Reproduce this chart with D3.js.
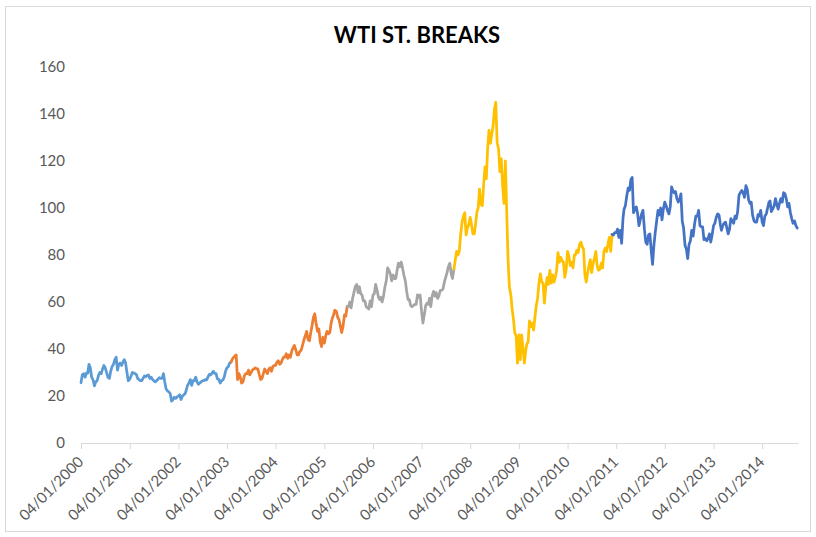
<!DOCTYPE html>
<html><head><meta charset="utf-8">
<script src="https://cdn.jsdelivr.net/npm/d3@7/dist/d3.min.js"></script>
<style>body{margin:0;background:#fff}</style>
</head><body>
<svg id="chart" width="816" height="537"></svg>
<script>
// ---- DATA (WTI spot, sampled on the 4th, 14th and 24th of each month) ----
const years = [2000,2001,2002,2003,2004,2005,2006,2007,2008,2009,2010,2011,2012,2013,2014];
const y2000 = [25.6,29.0,29.5, 28.0,29.8,29.7, 33.5,32.0,28.0, 26.8,24.3,26.0, 26.5,28.7,30.0, 29.5,31.5,33.0, 32.0,30.0,28.0, 27.5,30.5,32.5, 33.5,35.5,36.5, 31.0,33.5,34.0, 33.0,34.5,35.5, 34.0,30.0,26.5];
const y2001 = [27.2,28.5,30.0, 29.8,29.5,29.0, 27.5,27.0,26.5, 26.5,27.5,28.5, 28.2,28.7,29.0, 27.5,28.0,27.0, 26.5,26.0,26.5, 27.2,27.8,27.5, 27.5,29.5,26.0, 23.0,22.2,21.8, 21.0,17.8,18.5, 19.5,19.0,19.5];
const y2002 = [20.0,20.5,18.5, 20.0,20.5,21.0, 22.5,24.5,25.5, 27.0,24.5,26.5, 26.5,28.0,26.0, 25.0,25.5,26.0, 26.5,26.5,27.0, 26.8,28.0,29.2, 29.0,29.8,30.5, 29.6,29.5,27.3, 27.0,25.5,26.5, 26.8,28.0,30.5];
const y2003 = [32.0,32.5,34.0, 34.5,35.8,36.5, 37.0,37.5,27.0, 29.5,28.0,25.5, 26.0,28.5,29.5, 29.5,31.0,29.0, 30.0,31.0,31.5, 32.0,31.5,31.5, 29.0,27.0,27.5, 29.5,31.5,30.5, 29.5,31.5,32.0, 30.5,32.5,33.0];
const y2004 = [33.0,34.5,35.0, 33.5,34.0,35.5, 36.5,36.5,38.0, 36.0,37.5,36.5, 39.0,40.5,41.5, 39.5,37.5,37.5, 39.0,39.5,41.5, 44.0,45.5,47.5, 44.0,43.5,47.0, 50.0,53.5,55.0, 50.5,47.5,48.5, 43.0,41.0,45.0];
const y2005 = [42.5,45.5,47.5, 46.5,47.0,51.0, 53.0,54.5,56.5, 56.0,53.5,52.5, 49.8,47.0,49.5, 54.5,54.0,58.0, 58.0,60.0,57.5, 61.5,64.0,66.5, 67.5,64.0,66.5, 63.5,63.0,60.5, 60.5,58.0,57.5, 57.0,60.5,58.0];
const y2006 = [63.0,63.5,67.5, 65.0,62.0,61.0, 62.0,60.0,62.5, 66.5,69.0,74.5, 73.5,72.0,69.0, 71.5,70.0,70.0, 73.5,76.5,75.0, 77.0,74.5,71.5, 69.0,64.5,61.0, 61.0,58.5,58.0, 58.5,59.0,59.0, 63.0,62.0,63.0];
const y2007 = [56.0,51.0,54.5, 58.5,59.5,59.0, 61.5,58.0,62.5, 64.5,62.5,64.0, 61.5,62.5,65.0, 65.0,65.5,68.5, 70.5,72.5,75.0, 76.5,72.0,70.0, 74.0,78.0,81.5, 80.0,81.5,88.5, 94.0,96.5,98.0, 88.5,91.5,93.0];
const y2008 = [96.0,93.0,89.0, 89.0,93.5,98.5, 100.0,108.0,101.5, 101.0,110.0,117.5, 112.5,125.5,133.0, 127.5,131.5,135.0, 142.0,145.0,128.0, 125.0,115.5,121.0, 109.0,102.0,120.0, 98.5,78.5,66.5, 63.0,57.0,52.5, 46.8,45.5,34.0];
const y2009 = [46.0,35.5,46.0, 40.0,34.0,39.5, 42.0,43.0,52.0, 49.5,51.0,48.0, 53.5,58.5,61.5, 68.5,72.0,68.5, 68.0,59.5,66.0, 70.5,67.5,73.5, 68.0,71.5,68.5, 70.5,73.5,81.0, 77.0,79.0,77.5, 77.0,70.5,73.5];
const y2010 = [81.5,79.5,75.5, 77.0,74.5,80.0, 80.0,82.0,81.0, 84.5,85.5,83.5, 82.5,71.6,68.5, 72.5,75.5,78.0, 72.5,76.0,78.5, 81.5,75.5,73.5, 74.0,76.5,74.5, 81.5,83.0,81.5, 85.0,87.5,81.5, 88.8,88.5,89.5];
const y2011 = [89.5,91.0,87.5, 90.5,85.0,95.5, 99.5,101.0,105.0, 108.5,107.5,112.0, 113.0,98.0,99.5, 100.5,97.5,92.5, 95.0,97.5,99.0, 91.0,85.5,84.5, 88.5,89.0,82.0, 76.0,84.0,89.5, 94.5,99.0,97.0, 100.0,95.0,99.5];
const y2012 = [102.5,101.0,99.0, 97.5,100.5,109.0, 107.5,106.5,107.0, 104.0,102.5,103.5, 106.0,94.5,91.5, 84.0,82.5,78.5, 84.5,86.0,90.5, 88.0,93.0,96.5, 96.5,99.0,92.5, 92.0,92.0,86.5, 87.0,86.0,87.0, 89.0,85.5,88.5];
const y2013 = [92.5,93.5,96.0, 97.5,97.0,93.0, 90.5,92.5,93.5, 94.0,91.5,89.0, 91.0,95.5,94.5, 93.5,96.5,95.5, 98.5,105.5,106.5, 107.5,106.5,104.5, 109.5,108.0,103.5, 102.0,102.5,97.0, 94.5,94.0,94.0, 97.2,96.6,99.0];
const y2014 = [94.0,92.5,96.5, 97.5,100.0,102.5, 103.0,98.5,99.5, 101.0,104.0,101.5, 99.5,102.0,104.0, 102.5,106.5,106.0, 104.0,100.5,102.0, 98.0,95.5,93.5, 94.5,92.5,91.5];
const yearValues = [y2000,y2001,y2002,y2003,y2004,y2005,y2006,y2007,y2008,y2009,y2010,y2011,y2012,y2013,y2014];

const breakDates = ["2003-02-04","2005-06-24","2007-09-04","2010-12-04"];
const segmentColors = ["#5B9BD5","#ED7D31","#A5A5A5","#FFC000","#4472C4"];
const xTickLabels = ["04/01/2000","04/01/2001","04/01/2002","04/01/2003","04/01/2004","04/01/2005","04/01/2006","04/01/2007","04/01/2008","04/01/2009","04/01/2010","04/01/2011","04/01/2012","04/01/2013","04/01/2014"];
const yTickValues = [0,20,40,60,80,100,120,140,160];
const titleText = "WTI ST. BREAKS";

// ---- BUILD ----
const parse = d3.timeParse("%Y-%m-%d");
const points = years.flatMap((yr, k) => yearValues[k].map((v, i) => ({
  date: new Date(yr, Math.floor(i / 3), 4 + (i % 3) * 10), value: v })));
const breaks = breakDates.map(parse);
const tickDates = xTickLabels.map(s => d3.timeParse("%d/%m/%Y")(s));

const svg = d3.select("#chart");
svg.append("rect").attr("x", 5.5).attr("y", 6.5).attr("width", 805).attr("height", 525)
  .attr("fill", "#fff").attr("stroke", "#d9d9d9");

const x = d3.scaleTime().domain([new Date(2000,0,4), new Date(2014,8,30)]).range([81, 798]);
const y = d3.scaleLinear().domain([0,160]).range([443, 67]);

svg.append("text").attr("x", 417).attr("y", 43).attr("text-anchor", "middle")
  .attr("font-family", "Lato, 'Open Sans', sans-serif").attr("font-weight", "bold")
  .attr("font-size", 22).attr("fill", "#000").text(titleText);

// y axis labels
const ya = svg.append("g").attr("transform", "translate(81,0)")
  .call(d3.axisLeft(y).tickValues(yTickValues).tickSize(0).tickPadding(16));
ya.select(".domain").remove();
ya.selectAll("text").attr("font-family", "Lato, sans-serif").attr("font-size", 15).attr("fill", "#595959");

// x axis
const xa = svg.append("g").attr("transform", "translate(0,443)")
  .call(d3.axisBottom(x).tickValues(tickDates).tickFormat((d, i) => xTickLabels[i]).tickSize(6).tickSizeOuter(0));
xa.select(".domain").attr("stroke", "#d9d9d9");
xa.selectAll(".tick line").attr("stroke", "#d9d9d9");
xa.selectAll("text").attr("font-family", "Lato, sans-serif").attr("font-size", 15).attr("fill", "#595959")
  .attr("text-anchor", "end").attr("x", -12).attr("y", 16).attr("dy", "0").attr("transform", "rotate(-45)");

// lines
const line = d3.line().x(d => x(d.date)).y(d => y(d.value));
segmentColors.forEach((c, s) => {
  const start = s === 0 ? -Infinity : breaks[s - 1];
  const end = s === segmentColors.length - 1 ? Infinity : breaks[s];
  const seg = points.filter(p => p.date >= start && p.date <= end);
  svg.append("path").datum(seg).attr("d", line).attr("fill", "none")
    .attr("stroke", c).attr("stroke-width", 2.75).attr("stroke-linejoin", "round").attr("stroke-linecap", "round");
});
</script>
</body></html>
